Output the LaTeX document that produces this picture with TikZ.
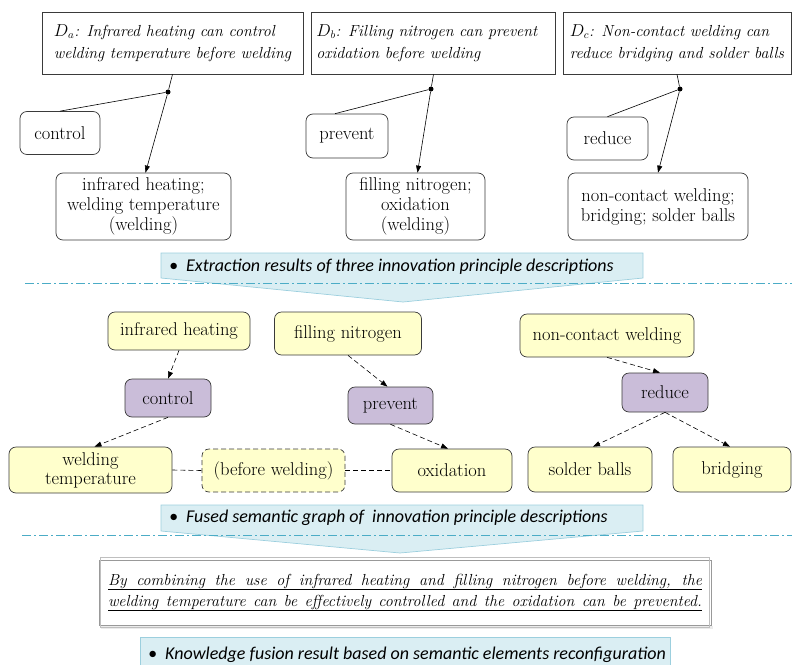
\documentclass[tikz,border=0pt]{standalone}
\usepackage{fontspec}
\newfontfamily\bannerfont{Carlito}
\usetikzlibrary{arrows.meta,calc}
\definecolor{ylw}{HTML}{FFFFCC}
\definecolor{prp}{HTML}{CABDD9}
\definecolor{bfill}{HTML}{DAEEF3}
\definecolor{bdraw}{HTML}{9CCFDE}
\definecolor{sepc}{HTML}{4BACC6}
\definecolor{edge}{HTML}{3A3A3A}
\begin{document}
\begin{tikzpicture}[x=1pt,y=-1pt,
  font=\fontsize{18.5}{20}\selectfont,
  topbox/.style={draw=edge, line width=0.7pt, rectangle, inner xsep=5pt, inner ysep=0pt, align=left, font=\fontsize{16}{22}\selectfont\itshape},
  rbox/.style={draw=edge, line width=0.7pt, rounded corners=7pt, inner sep=0pt, align=center, fill=white},
  ybox/.style={rbox, fill=ylw},
  pbox/.style={rbox, fill=prp},
  dotnode/.style={circle, fill=black, inner sep=0pt, minimum size=5pt},
  solidarrow/.style={-{Triangle[length=7pt,width=5pt]}, line width=0.6pt},
  plainline/.style={line width=0.6pt},
  dasharrow/.style={-{Triangle[length=7pt,width=5pt]}, line width=0.6pt, dash pattern=on 5pt off 3pt},
  dashline/.style={line width=0.6pt, dash pattern=on 5pt off 3pt},
  sepline/.style={draw=sepc, line width=0.8pt, dash pattern=on 9pt off 3pt on 2pt off 3pt},
  banner/.style={fill=bfill, draw=bdraw, line width=0.7pt},
  bannertext/.style={anchor=west, inner sep=0pt, font=\bannerfont\itshape\fontsize{18}{20}\selectfont}
]
\useasboundingbox (0,0) rectangle (792,664);

% ---------- top: extraction ----------
\node[topbox, minimum width=261pt, minimum height=62pt] (Da) at (172.5,43)
  {$D_{a}$: Infrared heating can control\\welding temperature before welding};
\node[topbox, minimum width=237pt, minimum height=62pt] (Db) at (433.5,43)
  {$D_{b}$: Filling nitrogen can prevent\\oxidation before welding\phantom{ab prevent}};
\node[topbox, minimum width=228pt, minimum height=62pt] (Dc) at (677,43)
  {$D_{c}$: Non-contact welding can\\reduce bridging and solder balls};

\node[dotnode] (da) at (168,92) {};
\node[dotnode] (db) at (431,89) {};
\node[dotnode] (dc) at (680,89) {};

\node[rbox, minimum width=80pt, minimum height=43pt] (c1) at (60,133) {control};
\node[rbox, minimum width=175pt, minimum height=67pt] (t1) at (143.5,206.5) {infrared heating;\\welding temperature\\(welding)};
\node[rbox, minimum width=82pt, minimum height=44pt] (c2) at (347,136) {prevent};
\node[rbox, minimum width=139pt, minimum height=67pt] (t2) at (415.5,206.5) {filling nitrogen;\\oxidation\\(welding)};
\node[rbox, minimum width=81pt, minimum height=43pt] (c3) at (607.5,138.5) {reduce};
\node[rbox, minimum width=180pt, minimum height=67pt] (t3) at (658,206.5) {non-contact welding;\\bridging; solder balls};

\draw[plainline] (Da.south) -- (da);
\draw[plainline] (da) -- (c1.north);
\draw[solidarrow] (da) -- ([xshift=2pt]t1.north);
\draw[plainline] (Db.south) -- (db);
\draw[plainline] (db) -- ([xshift=-12pt]c2.north);
\draw[solidarrow] (db) -- ([xshift=2pt]t2.north);
\draw[plainline] (Dc.south) -- (dc);
\draw[plainline] (dc) -- (c3.north);
\draw[solidarrow] (dc) -- (t3.north);

% ---------- banner 1 ----------
\path[banner] (161,253) -- (643,253) -- (643,278) -- (403,302) -- (161,278) -- cycle;
\node[bannertext] (b1) at (169,267) {\textbullet\hspace{8pt}Extraction results of three innovation principle descriptions};
\draw[sepline] (25,283) -- (792,283);

% ---------- middle: fused graph ----------
\node[ybox, minimum width=142pt, minimum height=38pt] (m1) at (179,331) {infrared heating};
\node[ybox, minimum width=147pt, minimum height=43pt] (m2) at (348,333.5) {filling nitrogen};
\node[ybox, minimum width=174pt, minimum height=43pt] (m3) at (607,335.5) {non-contact welding};
\node[pbox, minimum width=86pt, minimum height=38pt] (v1) at (168,398) {control};
\node[pbox, minimum width=85pt, minimum height=37pt] (v2) at (390.5,405.5) {prevent};
\node[pbox, minimum width=86pt, minimum height=39pt] (v3) at (665,392.5) {reduce};
\node[ybox, minimum width=163pt, minimum height=46pt, font=\fontsize{18.5}{19}\selectfont] (wt) at (90.5,470) {welding\\temperature};
\node[ybox, dash pattern=on 5pt off 3pt, minimum width=143pt, minimum height=43pt] (bw) at (273.5,470.5) {(before welding)};
\node[ybox, minimum width=120pt, minimum height=43pt] (ox) at (452,470.5) {oxidation};
\node[ybox, minimum width=124pt, minimum height=45pt] (sb) at (590,469.5) {solder balls};
\node[ybox, minimum width=118pt, minimum height=45pt] (br) at (732,469.5) {bridging};

\draw[dasharrow] (m1.south) -- (v1.north);
\draw[dasharrow] (v1.south) -- ([xshift=4pt]wt.north);
\draw[dasharrow] (m2.south) -- ([xshift=-3pt]v2.north);
\draw[dasharrow] (v2.south) -- ([xshift=-4pt]ox.north);
\draw[dasharrow] (m3.south) -- ([xshift=-5pt]v3.north);
\draw[dasharrow] (v3.south) -- ([xshift=3pt]sb.north);
\draw[dasharrow] (v3.south) -- ([xshift=-2pt]br.north);
\draw[dashline] (wt.east) -- (bw.west);
\draw[dashline] (bw.east) -- (ox.west);

% ---------- banner 2 ----------
\path[banner] (161,505) -- (643,505) -- (643,531) -- (400,553) -- (161,531) -- cycle;
\node[bannertext] (b2) at (169,518) {\textbullet\hspace{8pt}Fused semantic graph of\ \ innovation principle descriptions};
\draw[sepline] (22,535) -- (792,535);

% ---------- result ----------
\fill[black!8] (101,626) rectangle (713,629);
\node[draw=black!40, line width=0.6pt, fill=white, minimum width=612pt, minimum height=65pt, inner sep=0pt, align=center, font=\fontsize{16}{21}\selectfont\itshape] (res) at (405,592.5)
  {\underline{\makebox[594pt][s]{By combining the use of infrared heating and filling nitrogen before welding, the}}\\
   \underline{\makebox[594pt][s]{welding temperature can be effectively controlled and the oxidation can be prevented.}}};
\draw[black!25, line width=0.5pt] ([shift={(2pt,2pt)}]res.north west) rectangle ([shift={(-2pt,-2pt)}]res.south east);

% ---------- banner 3 ----------
\fill[bfill] (140,637) rectangle (670,668);
\draw[bdraw, line width=0.7pt] (140,668) -- (140,637) -- (670,637) -- (670,668);
\node[bannertext] (b3) at (148,655) {\textbullet\hspace{8pt}Knowledge fusion result based on semantic elements reconfiguration};
\end{tikzpicture}
\end{document}
